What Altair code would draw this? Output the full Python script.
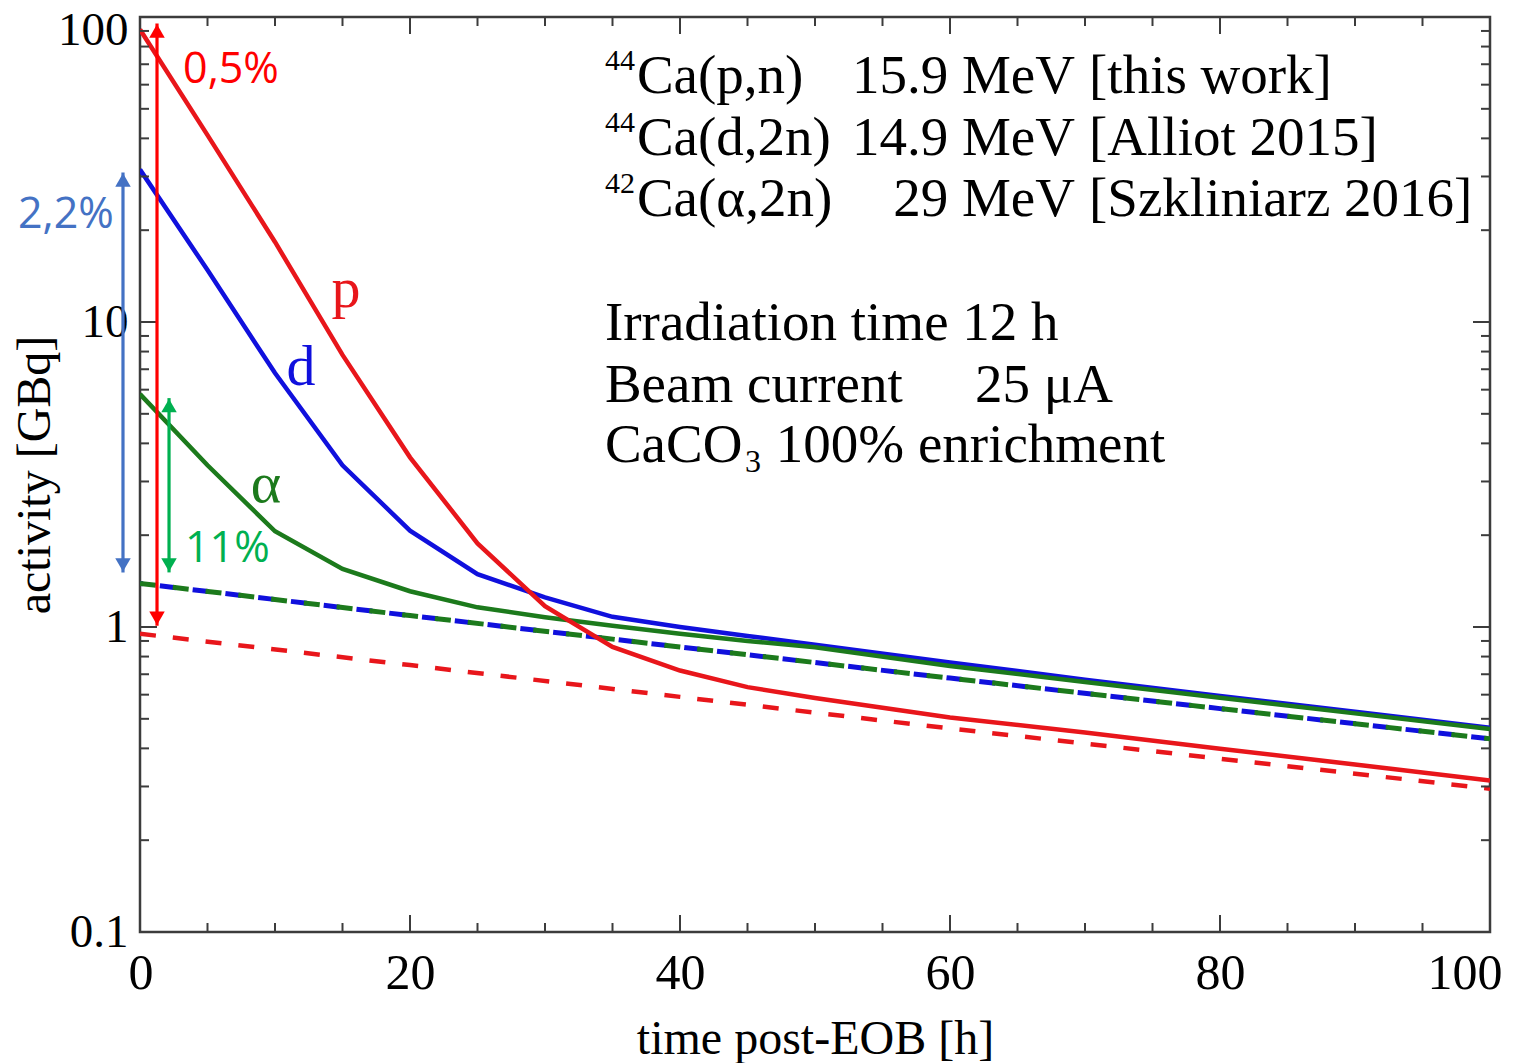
import altair as alt
import pandas as pd

# ---------------- data ----------------
hours = [0, 5, 10, 15, 20, 25, 30, 35, 40, 45, 50, 60, 70, 80, 90, 100]
p_total = [91, 41, 18.3, 7.8, 3.6, 1.88, 1.17, 0.86, 0.72, 0.635, 0.585, 0.505, 0.451, 0.399, 0.354, 0.314]
d_total = [31.6, 14.8, 6.8, 3.39, 2.07, 1.49, 1.25, 1.08, 1.0, 0.935, 0.875, 0.765, 0.672, 0.594, 0.527, 0.467]
a_total = [5.8, 3.39, 2.06, 1.55, 1.31, 1.16, 1.077, 1.01, 0.95, 0.90, 0.858, 0.745, 0.66, 0.586, 0.521, 0.463]

hours_m = [0, 20, 40, 60, 80, 100]
p_44m = [0.95, 0.75, 0.59, 0.465, 0.37, 0.295]
d_44m = [1.39, 1.09, 0.86, 0.68, 0.54, 0.43]
a_44m = [1.39, 1.09, 0.86, 0.68, 0.54, 0.43]

x_ticks = [0, 20, 40, 60, 80, 100]
y_ticks = [0.1, 1, 10, 100]
x_minor = [5, 10, 15, 25, 30, 35, 45, 50, 55, 65, 70, 75, 85, 90, 95]
x_major = [20, 40, 60, 80]
y_minor = [0.2, 0.3, 0.4, 0.5, 0.6, 0.7, 0.8, 0.9, 2, 3, 4, 5, 6, 7, 8, 9,
           20, 30, 40, 50, 60, 70, 80, 90]
y_major = [1, 10]

# annotations (positions in data units: hours, GBq)
arrow_t = [1.26, -1.26, 2.15]
arrow_top = [95.2, 30.9, 5.63]
arrow_bottom = [1.01, 1.51, 1.51]
arrow_color = ["#FF0000", "#4472C4", "#00B050"]

pct_text = ["0,5%", "2,2%", "11%"]
pct_t = [3.19, -9.04, 3.33]
pct_v = [60.9, 20.4, 1.63]

curve_lbl = ["p", "d", "α"]
curve_lbl_t = [15.26, 11.93, 9.33]
curve_lbl_v = [11.2, 6.21, 2.56]

leg_left_text = ["Ca(p,n)", "Ca(d,2n)", "Ca(α,2n)", "[this work]", "[Alliot 2015]",
                 "[Szkliniarz 2016]", "Irradiation time 12 h", "Beam current", "25 μA",
                 "CaCO", "100% enrichment"]
leg_left_t = [36.81, 36.81, 36.81, 70.3, 70.3, 70.3, 34.44, 34.44, 61.85, 34.44, 47.1]
leg_left_v = [56.5, 35.4, 22.3, 56.5, 35.4, 22.3, 8.73, 5.46, 5.46, 3.47, 3.47]

leg_sup_text = ["44", "44", "42"]
leg_sup_t = [34.44, 34.44, 34.44]
leg_sup_v = [67.2, 42.1, 26.5]

leg_sub_text = ["3"]
leg_sub_t = [44.81]
leg_sub_v = [3.22]

leg_right_text = ["15.9 MeV", "14.9 MeV", "29 MeV"]
leg_right_t = [69.26, 69.26, 69.26]
leg_right_v = [56.5, 35.4, 22.3]

# ---------------- styling ----------------
W, H = 1350, 915
SERIF = "Liberation Serif"
SANS = "Open Sans"
RED, BLUE, GREEN = "#E8161B", "#1010DD", "#1C7A1C"
FRAME = "#3c3c3c"

xs = alt.Scale(domain=[0, 100], nice=False, zero=False)
ys = alt.Scale(type="log", domain=[0.1, 100], nice=False)

XAXIS = alt.Axis(
    values=x_ticks, title="time post-EOB [h]", ticks=False, domain=False, grid=False,
    labelFont=SERIF, labelFontSize=50, labelColor="black", labelPadding=16,
    labelFlush=True, labelFlushOffset=12,
    titleFont=SERIF, titleFontSize=48, titleFontWeight="normal", titleColor="black",
    titlePadding=17)
YAXIS = alt.Axis(
    values=y_ticks, format="~g", title="activity [GBq]", ticks=False, domain=False,
    grid=False, labelFont=SERIF, labelFontSize=47, labelColor="black", labelPadding=12,
    labelOffset={"condition": {"test": "datum.value >= 100", "value": 13}, "value": 0},
    titleFont=SERIF, titleFontSize=48, titleFontWeight="normal", titleColor="black",
    titlePadding=-2)


def X(field="t"):
    return alt.X(f"{field}:Q", scale=xs, axis=XAXIS)


def Y(field="v"):
    return alt.Y(f"{field}:Q", scale=ys, axis=YAXIS)


def curve(t, v, color, width, dash=None, offset=None):
    df = pd.DataFrame({"t": t, "v": v})
    kw = dict(color=color, strokeWidth=width, clip=True)
    if dash is not None:
        kw["strokeDash"] = dash
    if offset is not None:
        kw["strokeDashOffset"] = offset
    return alt.Chart(df).mark_line(**kw).encode(x=X(), y=Y())


layers = [curve(hours_m, d_44m, BLUE, 5, [16, 17], 13),
          curve(hours_m, a_44m, GREEN, 5, [16, 17]),
          curve(hours_m, p_44m, RED, 4.5, [16, 17]),
          curve(hours, d_total, BLUE, 4.5),
          curve(hours, a_total, GREEN, 4.5),
          curve(hours, p_total, RED, 4.5)]


# inward ticks
def xtick(vals, length, top):
    df = pd.DataFrame({"t": vals})
    if top:
        enc = dict(y=alt.value(0), y2=alt.value(length))
    else:
        enc = dict(y=alt.value(H), y2=alt.value(H - length))
    return alt.Chart(df).mark_rule(color=FRAME, strokeWidth=2).encode(x=X(), **enc)


def ytick(vals, length, right):
    df = pd.DataFrame({"v": vals})
    if right:
        enc = dict(x=alt.value(W), x2=alt.value(W - length))
    else:
        enc = dict(x=alt.value(0), x2=alt.value(length))
    return alt.Chart(df).mark_rule(color=FRAME, strokeWidth=2).encode(y=Y(), **enc)


for top in (False, True):
    layers.append(xtick(x_minor, 9, top))
    layers.append(xtick(x_major, 17, top))
for right in (False, True):
    layers.append(ytick(y_minor, 9, right))
    layers.append(ytick(y_major, 17, right))

# arrows
arr = pd.DataFrame({"t": arrow_t, "v": arrow_top, "v2": arrow_bottom, "c": arrow_color})
shaft = alt.Chart(arr).mark_rule(strokeWidth=3.2).encode(
    x=X(), y=Y(), y2="v2:Q", color=alt.Color("c:N", scale=None))
head_up = alt.Chart(arr).mark_point(shape="triangle-up", filled=True, size=240, opacity=1,
                                    yOffset=7.5).encode(
    x=X(), y=Y(), color=alt.Color("c:N", scale=None))
head_dn = alt.Chart(arr).mark_point(shape="triangle-down", filled=True, size=240, opacity=1,
                                    yOffset=-7.5).encode(
    x=X(), y=Y("v2"), color=alt.Color("c:N", scale=None))
layers += [shaft, head_up, head_dn]

# percentages
pct = pd.DataFrame({"txt": pct_text, "t": pct_t, "v": pct_v, "c": arrow_color})
layers.append(alt.Chart(pct).mark_text(font=SANS, fontSize=43, align="left",
                                       baseline="alphabetic").encode(
    x=X(), y=Y(), text="txt:N", color=alt.Color("c:N", scale=None)))

# curve labels
cl = pd.DataFrame({"txt": curve_lbl, "t": curve_lbl_t, "v": curve_lbl_v, "c": [RED, BLUE, GREEN]})
layers.append(alt.Chart(cl).mark_text(font=SERIF, fontSize=58, align="center",
                                      baseline="alphabetic").encode(
    x=X(), y=Y(), text="txt:N", color=alt.Color("c:N", scale=None)))


# legend / info text
def txt(texts, ts, vs, size, align):
    df = pd.DataFrame({"txt": texts, "t": ts, "v": vs})
    return alt.Chart(df).mark_text(font=SERIF, fontSize=size, align=align,
                                   baseline="alphabetic", color="black").encode(
        x=X(), y=Y(), text="txt:N")


layers.append(txt(leg_left_text, leg_left_t, leg_left_v, 55, "left"))
layers.append(txt(leg_right_text, leg_right_t, leg_right_v, 55, "right"))
layers.append(txt(leg_sup_text, leg_sup_t, leg_sup_v, 30, "left"))
layers.append(txt(leg_sub_text, leg_sub_t, leg_sub_v, 32, "left"))

chart = alt.layer(*layers).properties(
    width=W, height=H,
    autosize=alt.AutoSizeParams(type="none"),
    padding={"left": 140, "top": 17, "right": 23, "bottom": 131},
    background="white",
).configure_view(stroke=FRAME, strokeWidth=2.5)

chart.save("out.html", embed_options={"renderer": "svg", "actions": False})
